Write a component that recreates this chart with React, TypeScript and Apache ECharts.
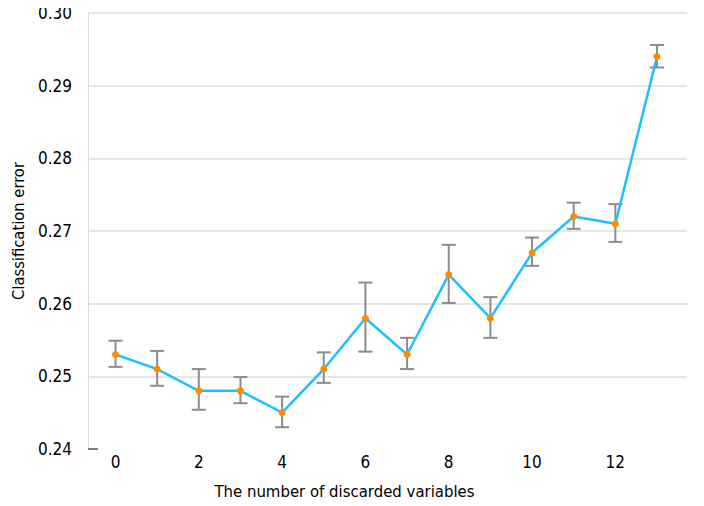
import React, { useEffect, useRef } from "react";
import * as echarts from "echarts";

const discarded = [0, 1, 2, 3, 4, 5, 6, 7, 8, 9, 10, 11, 12, 13];
const meanError = [0.253, 0.251, 0.248, 0.248, 0.245, 0.251, 0.258, 0.253, 0.264, 0.258, 0.267, 0.272, 0.271, 0.294];
const errorLow = [0.2513, 0.2487, 0.2454, 0.2463, 0.243, 0.2491, 0.2534, 0.251, 0.2601, 0.2553, 0.2652, 0.2703, 0.2685, 0.2925];
const errorHigh = [0.2549, 0.2535, 0.251, 0.2499, 0.2472, 0.2533, 0.2629, 0.2553, 0.2681, 0.2609, 0.2691, 0.2739, 0.2737, 0.2956];
const xTickLabels = [0, 2, 4, 6, 8, 10, 12];
const yTickLabels = [0.24, 0.25, 0.26, 0.27, 0.28, 0.29, 0.3];

const FONT = "'DejaVu Sans Condensed', 'DejaVu Sans', sans-serif";

export default function App() {
  const ref = useRef<HTMLDivElement>(null);
  useEffect(() => {
    if (!ref.current) return;
    const chart = echarts.init(ref.current, null, { renderer: "svg" });
    const lineData = discarded.map((x, i) => [x, meanError[i]]);
    const barData = discarded.map((x, i) => [x, errorLow[i], errorHigh[i]]);
    chart.setOption({
      animation: false,
      backgroundColor: "#ffffff",
      grid: { left: 88, right: 17, top: 13, bottom: 57, containLabel: false },
      xAxis: {
        type: "value",
        min: -0.66,
        max: 13.72,
        name: "The number of discarded variables",
        nameLocation: "middle",
        nameGap: 34,
        nameTextStyle: { fontFamily: FONT, fontSize: 16.6, color: "#000", padding: [0, 86, 0, 0] },
        axisLine: { show: false },
        axisTick: { show: false },
        splitLine: { show: false },
        axisLabel: {
          customValues: xTickLabels,
          fontFamily: FONT,
          fontSize: 17,
          color: "#000",
          margin: 4,
          formatter: (v: number) => String(v),
        },
      },
      yAxis: [
        {
          type: "value",
          min: 0.24,
          max: 0.3,
          interval: 0.01,
          name: "Classification error",
          nameLocation: "middle",
          nameGap: 62,
          nameTextStyle: { fontFamily: FONT, fontSize: 16.4, color: "#000" },
          axisLine: { show: true, onZero: false, lineStyle: { color: "#d9d9d9", width: 1 } },
          axisTick: { show: false },
          splitLine: {
            show: true,
            lineStyle: {
              color: ["rgba(0,0,0,0)", "#dedede", "#dedede", "#dedede", "#dedede", "#dedede", "#dedede"],
              width: 1.5,
            },
          },
          axisLabel: {
            fontFamily: FONT,
            fontSize: 17,
            color: "#000",
            margin: 16,
            padding: [3, 0, 0, 0],
            formatter: (v: number) => v.toFixed(2),
          },
        },
        {
          type: "value",
          min: 0.24,
          max: 0.3,
          position: "left",
          axisLine: { show: false, onZero: false },
          axisLabel: { show: false },
          splitLine: { show: false },
          axisTick: {
            show: true,
            inside: true,
            length: 10,
            customValues: [yTickLabels[0]],
            lineStyle: { color: "#555", width: 1.5 },
          },
        },
      ],
      series: [
        {
          type: "custom",
          data: barData,
          z: 1,
          renderItem: (params: any, api: any) => {
            const x = api.value(0);
            const lo = api.coord([x, api.value(1)]);
            const hi = api.coord([x, api.value(2)]);
            const w = 7;
            const style = { stroke: "#8c8c8c", lineWidth: 2 };
            return {
              type: "group",
              children: [
                { type: "line", shape: { x1: lo[0], y1: lo[1], x2: hi[0], y2: hi[1] }, style },
                { type: "line", shape: { x1: hi[0] - w, y1: hi[1], x2: hi[0] + w, y2: hi[1] }, style },
                { type: "line", shape: { x1: lo[0] - w, y1: lo[1], x2: lo[0] + w, y2: lo[1] }, style },
              ],
            };
          },
        },
        {
          type: "line",
          data: lineData,
          z: 3,
          symbol: "circle",
          symbolSize: 7,
          lineStyle: { color: "#1ec0ff", width: 2.5 },
          itemStyle: { color: "#ff8c00", borderWidth: 0 },
        },
      ],
    });
    return () => chart.dispose();
  }, []);
  return <div ref={ref} style={{ width: 704, height: 506, margin: -8 }} />;
}
